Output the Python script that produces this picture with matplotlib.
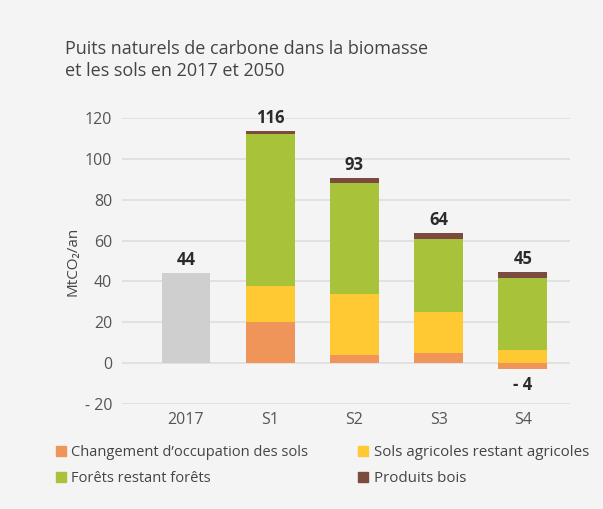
import matplotlib
matplotlib.use("Agg")
import matplotlib.pyplot as plt
from matplotlib.lines import Line2D
import numpy as np

categories = ["2017", "S1", "S2", "S3", "S4"]
base_2017 = [44, 0, 0, 0, 0]
changement = [0, 20, 4, 5, -3]
sols_agri = [0, 18, 30, 20, 6.5]
forets = [0, 74, 54, 36, 35]
produits = [0, 1.5, 2.5, 2.5, 3.3]
total_labels = ["44", "116", "93", "64", "45"]
neg_labels = ["", "", "", "", "- 4"]
yticks = [-20, 0, 20, 40, 60, 80, 100, 120]
ytick_labels = ["- 20", "0", "20", "40", "60", "80", "100", "120"]

c_grey = "#cfcfcf"
c_orange = "#f0955a"
c_yellow = "#ffc933"
c_green = "#a8c23a"
c_brown = "#7a4b3e"
bg = "#f4f4f4"

plt.rcParams["font.family"] = ["Open Sans", "DejaVu Sans"]

fig = plt.figure(figsize=(6.03, 5.09), dpi=100, facecolor=bg)
ax = fig.add_axes([0.2023, 0.2063, 0.743, 0.5619], facecolor=bg)

x = np.arange(len(categories))
w = 0.58
ax.bar(x, base_2017, w, color=c_grey, zorder=3)
pos_bottom = np.zeros(len(x))
neg_bottom = np.zeros(len(x))
for vals, col in [(changement, c_orange), (sols_agri, c_yellow), (forets, c_green), (produits, c_brown)]:
    v = np.array(vals, dtype=float)
    b = np.where(v >= 0, pos_bottom, neg_bottom)
    ax.bar(x, v, w, bottom=b, color=col, zorder=3)
    pos_bottom = pos_bottom + np.where(v >= 0, v, 0)
    neg_bottom = neg_bottom + np.where(v < 0, v, 0)
tops = np.maximum(pos_bottom, np.array(base_2017, dtype=float))

for xi, t, lab in zip(x, tops, total_labels):
    ax.annotate(lab, (xi, t), xytext=(0, 13), textcoords="offset pixels",
                ha="center", va="center", fontsize=12, fontweight="bold",
                color="#2b2b2b", annotation_clip=False)
for xi, nb, lab in zip(x, neg_bottom, neg_labels):
    if lab:
        ax.annotate(lab, (xi, nb), xytext=(0, -16), textcoords="offset pixels",
                    ha="center", va="center", fontsize=12, fontweight="bold",
                    color="#2b2b2b", annotation_clip=False)

ax.set_xlim(-0.76, 4.56)
ax.set_ylim(-20, 120)
ax.set_yticks(yticks)
ax.set_yticklabels(ytick_labels)
ax.set_xticks(x)
ax.set_xticklabels(categories)
ax.grid(axis="y", color="#dedede", linewidth=1.2, zorder=0)
for s in ax.spines.values():
    s.set_visible(False)
ax.tick_params(length=0, labelsize=11.5, colors="#555555")
ax.tick_params(axis="y", pad=7)
ax.tick_params(axis="x", pad=6)
ax.set_ylabel("MtCO₂/an", fontsize=11, color="#444444", labelpad=3)

fig.text(65 / 603, 1 - 60 / 509, "Puits naturels de carbone dans la biomasse\net les sols en 2017 et 2050",
         ha="left", va="center", fontsize=13, color="#444444", linespacing=1.3)

handles = [Line2D([], [], marker="s", linestyle="none", markersize=7.5, color=c)
           for c in [c_orange, c_yellow, c_green, c_brown]]
labels = ["Changement d’occupation des sols", "Sols agricoles restant agricoles",
          "Forêts restant forêts", "Produits bois"]
for cols, xpx, fs in [([0, 2], 56, 10.5), ([1, 3], 358, 10.9)]:
    leg = fig.legend([handles[i] for i in cols], [labels[i] for i in cols],
                     loc="upper left", bbox_to_anchor=(xpx / 603, 1 - 445 / 509), ncol=1,
                     frameon=False, fontsize=fs, handlelength=0.7, handletextpad=0.35,
                     labelspacing=0.75, borderaxespad=0, borderpad=0)
    for t in leg.get_texts():
        t.set_color("#444444")

fig.savefig("out.png", dpi=100, facecolor=bg)
